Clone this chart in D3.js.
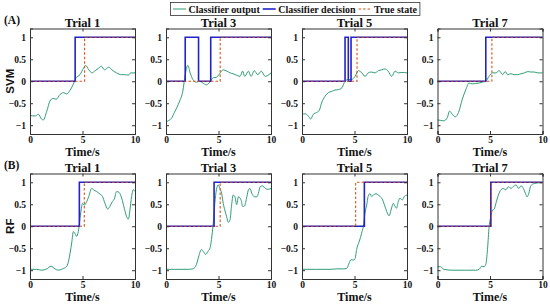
<!DOCTYPE html>
<html lang="en">
<head>
  <meta charset="UTF-8">
  <title>Classifier trials</title>
  <script src="https://d3js.org/d3.v7.min.js"></script>
  <style>
    body { margin: 0; background: #fff; }
    svg { width: 550px; height: 305px; display: block; }
    text { font-family: "Liberation Serif", "Times New Roman", serif; font-weight: bold; fill: #111; }
    .rowlab { font-family: "Liberation Sans", Arial, sans-serif; }
  </style>
</head>
<body>
<svg></svg>
<script>
  // ---- data ----
  const trials = [`Trial 1`, `Trial 3`, `Trial 5`, `Trial 7`];
  const rows = [`SVM`, `RF`];
  const rowTags = [`(A)`, `(B)`];
  const xTicks = [0, 5, 10];
  const yTicks = [-1, -0.5, 0, 0.5, 1];
  const legendLabels = [`Classifier output`, `Classifier decision`, `True state`];

  // switch times of classifier decision (toggles 0 <-> 1)
  const svmDecision = [[4.3], [1.83, 3.1, 4.26], [4.1, 4.41, 4.67], [4.6]];
  const rfDecision = [[4.7], [4.58], [5.94], [5.08]];
  // onset of the true state
  const svmTrue = [5.2, 5.16, 5.24, 5.18];
  const rfTrue = [5.17, 5.16, 5.11, 5.14];

  // classifier output [time, value]
  const svmOut1 = [[0,-0.78],[0.5,-0.79],[0.8,-0.75],[1.1,-0.86],[1.27,-0.88],[1.6,-0.68],[1.9,-0.45],[2.2,-0.39],[2.5,-0.41],[2.86,-0.3],[3.2,-0.26],[3.5,-0.29],[3.8,-0.21],[4.1,-0.08],[4.4,0.08],[4.76,0.15],[5.1,0.3],[5.3,0.36],[5.6,0.26],[5.9,0.19],[6.2,0.24],[6.5,0.29],[6.8,0.34],[7.1,0.26],[7.5,0.32],[7.8,0.26],[8.25,0.19],[8.7,0.15],[9.0,0.15],[9.37,0.14],[9.6,0.19],[10,0.19]];
  const svmOut2 = [[0,-0.93],[0.2,-0.9],[0.5,-0.85],[0.8,-0.71],[1.3,-0.45],[1.6,-0.23],[1.83,0.15],[2.08,0.36],[2.3,0.19],[2.56,0.04],[2.9,-0.02],[3.2,0],[3.5,-0.04],[3.85,-0.08],[4.17,-0.02],[4.5,0.08],[4.8,0.09],[5.1,0.17],[5.45,0.26],[5.8,0.23],[6.1,0.19],[6.4,0.17],[6.7,0.14],[7.05,0.11],[7.3,0.23],[7.5,0.11],[7.85,0.23],[8.1,0.11],[8.4,0.24],[8.75,0.15],[9.07,0.23],[9.45,0.11],[9.8,0.15],[10,0.19]];
  const svmOut3 = [[0,-0.76],[0.29,-0.74],[0.6,-0.79],[0.83,-0.86],[1.08,-0.75],[1.4,-0.71],[1.65,-0.66],[1.87,-0.49],[2.2,-0.34],[2.5,-0.26],[2.83,-0.23],[3.14,-0.2],[3.46,-0.19],[3.8,-0.15],[4.1,0],[4.4,0.04],[4.73,0.04],[5.05,0.11],[5.37,0.24],[5.7,0.19],[6.0,0.11],[6.3,0.19],[6.6,0.21],[6.95,0.19],[7.27,0.24],[7.6,0.26],[7.9,0.28],[8.2,0.23],[8.55,0.11],[8.86,0.23],[9.17,0.19],[9.5,0.2],[10,0.19]];
  const svmOut4 = [[0,-0.88],[0.29,-0.89],[0.6,-0.9],[0.93,-0.83],[1.15,-0.68],[1.4,-0.75],[1.7,-0.81],[2.0,-0.71],[2.36,-0.41],[2.7,-0.19],[3.0,-0.04],[3.3,-0.06],[3.64,-0.05],[3.96,-0.04],[4.28,-0.02],[4.6,0],[4.9,0.11],[5.24,0.19],[5.56,0.19],[5.88,0.24],[6.2,0.15],[6.45,0.22],[6.68,0.15],[7.0,0.17],[7.3,0.15],[7.6,0.15],[7.95,0.17],[8.27,0.19],[8.6,0.22],[8.9,0.21],[9.2,0.21],[9.55,0.19],[10,0.19]];

  const rfOut1 = [[0,-0.98],[0.63,-0.98],[1.1,-1.0],[1.6,-0.97],[2.0,-0.91],[2.38,-0.97],[2.7,-1.0],[3.08,-0.97],[3.5,-0.91],[3.7,-0.76],[3.97,-0.38],[4.13,-0.12],[4.29,-0.17],[4.44,-0.23],[4.6,-0.12],[4.83,0.3],[5.0,0.52],[5.17,0.48],[5.4,0.56],[5.6,0.68],[5.87,0.86],[6.1,0.82],[6.35,0.79],[6.67,0.73],[6.9,0.68],[7.14,0.52],[7.4,0.39],[7.6,0.45],[7.84,0.56],[8.03,0.62],[8.25,0.79],[8.48,0.77],[8.73,0.64],[8.98,0.41],[9.2,0.22],[9.37,0.16],[9.52,0.37],[9.68,0.68],[9.84,0.83],[10,0.79]];
  const rfOut2 = [[0,-0.98],[0.8,-0.98],[1.44,-0.98],[2.08,-0.98],[2.56,-0.97],[2.9,-0.87],[3.1,-0.7],[3.37,-0.53],[3.6,-0.59],[3.78,-0.64],[4.0,-0.57],[4.2,-0.49],[4.33,-0.3],[4.5,0.07],[4.65,0.52],[4.8,0.83],[4.97,0.94],[5.13,0.86],[5.3,0.75],[5.45,0.52],[5.6,0.37],[5.77,0.22],[5.93,0.09],[6.1,0.15],[6.25,0.49],[6.4,0.71],[6.57,0.67],[6.73,0.49],[6.9,0.67],[7.15,0.6],[7.3,0.45],[7.47,0.46],[7.7,0.67],[7.85,0.83],[8.0,0.86],[8.17,0.75],[8.43,0.67],[8.65,0.67],[8.8,0.75],[8.97,0.9],[9.2,0.92],[9.45,0.86],[9.7,0.84],[10,0.86]];
  const rfOut3 = [[0,-0.98],[1.4,-0.98],[2.67,-0.98],[3.3,-0.97],[3.94,-0.97],[4.25,-0.96],[4.5,-0.83],[4.67,-0.76],[4.9,-0.77],[5.05,-0.74],[5.2,-0.53],[5.46,-0.34],[5.68,-0.16],[5.84,0],[6.0,0.3],[6.16,0.48],[6.3,0.68],[6.48,0.74],[6.63,0.68],[6.8,0.71],[7.05,0.74],[7.27,0.71],[7.43,0.68],[7.68,0.6],[7.9,0.45],[8.13,0.3],[8.3,0.24],[8.48,0.37],[8.7,0.52],[8.86,0.45],[9.0,0.41],[9.17,0.56],[9.33,0.64],[9.55,0.6],[9.75,0.68],[10,0.71]];
  const rfOut4 = [[0,-0.92],[0.29,-0.92],[0.6,-0.98],[1.4,-1.0],[2.68,-1.0],[3.64,-1.0],[3.96,-0.98],[4.2,-0.91],[4.44,-0.92],[4.6,-0.87],[4.76,-0.53],[4.92,0],[5.08,0.22],[5.24,0.37],[5.4,0.39],[5.56,0.52],[5.8,0.71],[6.04,0.83],[6.26,0.86],[6.5,0.83],[6.77,0.9],[7.0,0.86],[7.2,0.9],[7.48,0.94],[7.73,0.86],[7.96,0.92],[8.18,0.86],[8.37,0.75],[8.53,0.67],[8.7,0.75],[8.85,0.9],[9.07,0.96],[9.4,0.98],[9.7,0.99],[10,0.99]];

  const outputs = [[svmOut1, svmOut2, svmOut3, svmOut4], [rfOut1, rfOut2, rfOut3, rfOut4]];
  const decisions = [svmDecision, rfDecision];
  const trueOnsets = [svmTrue, rfTrue];

  // ---- layout ----
  const colors = {out: `#2f9e74`, dec: `#2323c8`, truth: `#d9541a`};
  const panelLeft = [30, 166, 302, 437.5];
  const panelW = 105;
  const rowTop = [28.5, 173.5];
  const panelH = 105.5;

  const svg = d3.select(`svg`);

  const x = d3.scaleLinear().domain([0, 10]);
  const y = d3.scaleLinear().domain([-1.2, 1.2]);

  const stepLine = d3.line().curve(d3.curveStepAfter);

  rows.forEach((rowName, r) => {
    trials.forEach((trial, c) => {
      const g = svg.append(`g`)
        .attr(`transform`, `translate(${panelLeft[c]}, ${rowTop[r]})`);
      const xs = x.copy().range([0, panelW]);
      const ys = y.copy().range([panelH, 0]);

      g.append(`text`)
        .attr(`x`, panelW / 2).attr(`y`, -2)
        .attr(`text-anchor`, `middle`)
        .attr(`font-size`, 12.5)
        .text(trial);

      const out = d3.line()
        .x(d => xs(d[0])).y(d => ys(d[1]))
        .curve(d3.curveMonotoneX);
      g.append(`path`)
        .attr(`d`, out(outputs[r][c]))
        .attr(`fill`, `none`)
        .attr(`stroke`, colors.out)
        .attr(`stroke-width`, 1);

      // decision step
      let state = 0;
      const decPts = [[xs(0), ys(0)]];
      decisions[r][c].forEach(t => {
        state = 1 - state;
        decPts.push([xs(t), ys(state)]);
      });
      decPts.push([xs(10), ys(state)]);
      g.append(`path`)
        .attr(`d`, stepLine(decPts))
        .attr(`fill`, `none`)
        .attr(`stroke`, colors.dec)
        .attr(`stroke-width`, 1.6);

      const t0 = trueOnsets[r][c];
      const truePts = [[xs(0), ys(0)], [xs(t0), ys(1)], [xs(10), ys(1)]];
      g.append(`path`)
        .attr(`d`, stepLine(truePts))
        .attr(`fill`, `none`)
        .attr(`stroke`, colors.truth)
        .attr(`stroke-width`, 1.1)
        .attr(`stroke-dasharray`, `2.5,2`);

      const xAxis = d3.axisBottom(xs).tickValues(xTicks).tickSize(-3).tickPadding(2.5).tickFormat(d3.format(`d`));
      const yAxis = d3.axisLeft(ys).tickValues(yTicks).tickSize(-3).tickPadding(4)
        .tickFormat(d => d3.format(`~g`)(d).replace(`-`, `\u2212`));

      const xa = g.append(`g`).attr(`transform`, `translate(0, ${panelH})`).call(xAxis);
      const ya = g.append(`g`).call(yAxis);
      g.append(`g`).call(d3.axisTop(xs).tickValues(xTicks).tickSize(-3).tickFormat(``));
      g.append(`g`).attr(`transform`, `translate(${panelW}, 0)`)
        .call(d3.axisRight(ys).tickValues(yTicks).tickSize(-3).tickFormat(``));
      g.selectAll(`.domain`).attr(`stroke`, `#333`).attr(`stroke-width`, 1);
      g.selectAll(`.tick line`).attr(`stroke`, `#333`);
      [xa, ya].forEach(a => a.selectAll(`text`)
        .attr(`font-size`, 9.5)
        .attr(`font-family`, `"Liberation Serif", serif`)
        .attr(`font-weight`, `bold`)
        .attr(`fill`, `#111`));

      g.append(`text`)
        .attr(`x`, panelW / 2).attr(`y`, panelH + 21.5)
        .attr(`text-anchor`, `middle`)
        .attr(`font-size`, 12)
        .text(`Time/s`);
    });

    svg.append(`text`)
      .attr(`class`, `rowlab`)
      .attr(`transform`, `translate(14, ${rowTop[r] + panelH / 2}) rotate(-90)`)
      .attr(`text-anchor`, `middle`)
      .attr(`font-size`, 11.5)
      .text(rowName);

    svg.append(`text`)
      .attr(`x`, 4).attr(`y`, rowTop[r] - 5)
      .attr(`font-size`, 11.5)
      .text(rowTags[r]);
  });

  // ---- legend ----
  const legend = svg.append(`g`).attr(`transform`, `translate(170.5, 2.5)`);
  legend.append(`rect`)
    .attr(`width`, 237).attr(`height`, 13)
    .attr(`fill`, `#fff`).attr(`stroke`, `#333`).attr(`stroke-width`, 0.8);
  const legStyle = [
    {color: colors.out, dash: null, w: 1},
    {color: colors.dec, dash: null, w: 1.6},
    {color: colors.truth, dash: `2.5,2`, w: 1.1},
  ];
  let cursor = 2.5;
  legendLabels.forEach((label, i) => {
    const st = legStyle[i];
    legend.append(`line`)
      .attr(`x1`, cursor).attr(`x2`, cursor + 13)
      .attr(`y1`, 6.5).attr(`y2`, 6.5)
      .attr(`stroke`, st.color)
      .attr(`stroke-width`, st.w)
      .attr(`stroke-dasharray`, st.dash);
    const t = legend.append(`text`)
      .attr(`x`, cursor + 15.5).attr(`y`, 10.3)
      .attr(`font-size`, 10)
      .attr(`font-weight`, `bold`)
      .text(label);
    cursor += 15.5 + t.node().getComputedTextLength() + 3;
  });
  legend.select(`rect`).attr(`width`, cursor);
</script>
</body>
</html>
